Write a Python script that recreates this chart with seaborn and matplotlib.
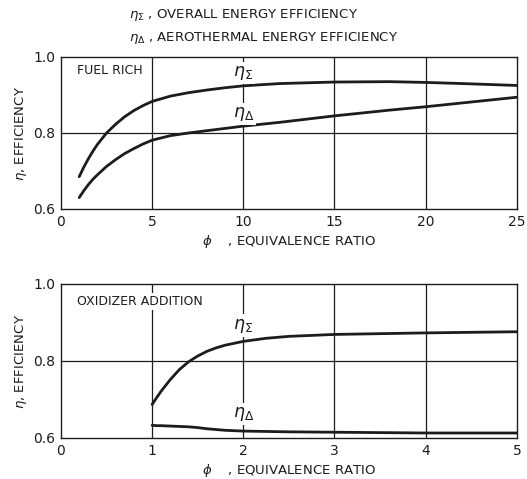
import matplotlib
matplotlib.use("Agg")
import matplotlib.pyplot as plt
import seaborn as sns
import pandas as pd

# Fuel-rich operation: equivalence ratio vs. efficiencies
phi_rich = [1, 1.25, 1.5, 1.75, 2, 2.5, 3, 3.5, 4, 4.5, 5, 6, 7, 8, 9, 10, 12, 15, 18, 20, 22, 25]
eta_sigma_rich = [0.685, 0.710, 0.732, 0.752, 0.770, 0.800, 0.823, 0.843, 0.859, 0.872,
                  0.883, 0.897, 0.906, 0.913, 0.919, 0.924, 0.930, 0.934, 0.935, 0.933,
                  0.930, 0.925]
eta_delta_rich = [0.630, 0.648, 0.664, 0.678, 0.690, 0.712, 0.730, 0.746, 0.759, 0.771,
                  0.781, 0.793, 0.800, 0.806, 0.812, 0.818, 0.828, 0.845, 0.860, 0.869,
                  0.879, 0.894]

# Oxidizer addition: equivalence ratio vs. efficiencies
phi_ox = [1, 1.05, 1.1, 1.2, 1.3, 1.4, 1.5, 1.6, 1.7, 1.8, 2, 2.25, 2.5, 3, 4, 5]
eta_sigma_ox = [0.687, 0.705, 0.722, 0.752, 0.778, 0.798, 0.813, 0.825, 0.834, 0.841,
                0.851, 0.859, 0.864, 0.869, 0.873, 0.876]
eta_delta_ox = [0.633, 0.632, 0.632, 0.631, 0.630, 0.629, 0.627, 0.624, 0.622, 0.620,
                0.618, 0.617, 0.616, 0.615, 0.613, 0.613]

rich = pd.DataFrame({"phi": phi_rich, "sigma": eta_sigma_rich, "delta": eta_delta_rich})
ox = pd.DataFrame({"phi": phi_ox, "sigma": eta_sigma_ox, "delta": eta_delta_ox})

sns.set_theme(style="white")
plt.rcParams["font.family"] = ["DejaVu Sans"]
plt.rcParams["mathtext.fontset"] = "dejavusans"

ink = "#1c1c1c"
fig = plt.figure(figsize=(5.27, 4.79), dpi=100)
ax1 = fig.add_axes([0.1157, 0.5637, 0.865, 0.3174])
ax2 = fig.add_axes([0.1157, 0.0856, 0.865, 0.3215])

label_box = dict(facecolor="white", edgecolor="none", pad=1.5)


def style_axes(ax, xticks, xmax):
    ax.set_xlim(0, xmax)
    ax.set_ylim(0.6, 1.0)
    ax.set_xticks(xticks)
    ax.set_yticks([0.6, 0.8, 1.0])
    ax.set_yticklabels(["0.6", "0.8", "1.0"])
    ax.tick_params(length=0, labelsize=10, colors=ink, pad=4)
    for x in xticks[1:-1]:
        ax.axvline(x, color=ink, lw=0.9, zorder=1)
    ax.axhline(0.8, color=ink, lw=0.9, zorder=1)
    for s in ax.spines.values():
        s.set_color(ink)
        s.set_linewidth(1.0)
    ax.set_ylabel(r"$\eta$, EFFICIENCY", fontsize=9.5, color=ink, labelpad=3)
    ax.set_xlabel(r"$\phi$    , EQUIVALENCE RATIO", fontsize=9.5, color=ink, labelpad=3)


# Upper panel: fuel rich
sns.lineplot(data=rich, x="phi", y="sigma", ax=ax1, color=ink, lw=2.0, zorder=3)
sns.lineplot(data=rich, x="phi", y="delta", ax=ax1, color=ink, lw=2.0, zorder=3)
style_axes(ax1, [0, 5, 10, 15, 20, 25], 25)
ax1.text(0.9, 0.965, "FUEL RICH", fontsize=9, color=ink, va="center", ha="left",
         bbox=label_box, zorder=4)
ax1.text(10, 0.957, r"$\eta_\Sigma$", fontsize=12.5, color=ink, ha="center", va="center",
         bbox=label_box, zorder=4)
ax1.text(10, 0.850, r"$\eta_\Delta$", fontsize=12.5, color=ink, ha="center", va="center",
         bbox=label_box, zorder=4)

# Lower panel: oxidizer addition
sns.lineplot(data=ox, x="phi", y="sigma", ax=ax2, color=ink, lw=2.0, zorder=3)
sns.lineplot(data=ox, x="phi", y="delta", ax=ax2, color=ink, lw=2.0, zorder=3)
style_axes(ax2, [0, 1, 2, 3, 4, 5], 5)
ax2.text(0.18, 0.955, "OXIDIZER ADDITION", fontsize=9, color=ink, va="center", ha="left",
         bbox=label_box, zorder=4)
ax2.text(2, 0.892, r"$\eta_\Sigma$", fontsize=12.5, color=ink, ha="center", va="center",
         bbox=label_box, zorder=4)
ax2.text(2, 0.663, r"$\eta_\Delta$", fontsize=12.5, color=ink, ha="center", va="center",
         bbox=label_box, zorder=4)

# Legend of symbols above the panels
fig.text(0.245, 0.968, r"$\eta_\Sigma$ , OVERALL ENERGY EFFICIENCY", fontsize=9.5,
         color=ink, ha="left", va="center")
fig.text(0.245, 0.921, r"$\eta_\Delta$ , AEROTHERMAL ENERGY EFFICIENCY", fontsize=9.5,
         color=ink, ha="left", va="center")

fig.savefig("out.png", dpi=100)
